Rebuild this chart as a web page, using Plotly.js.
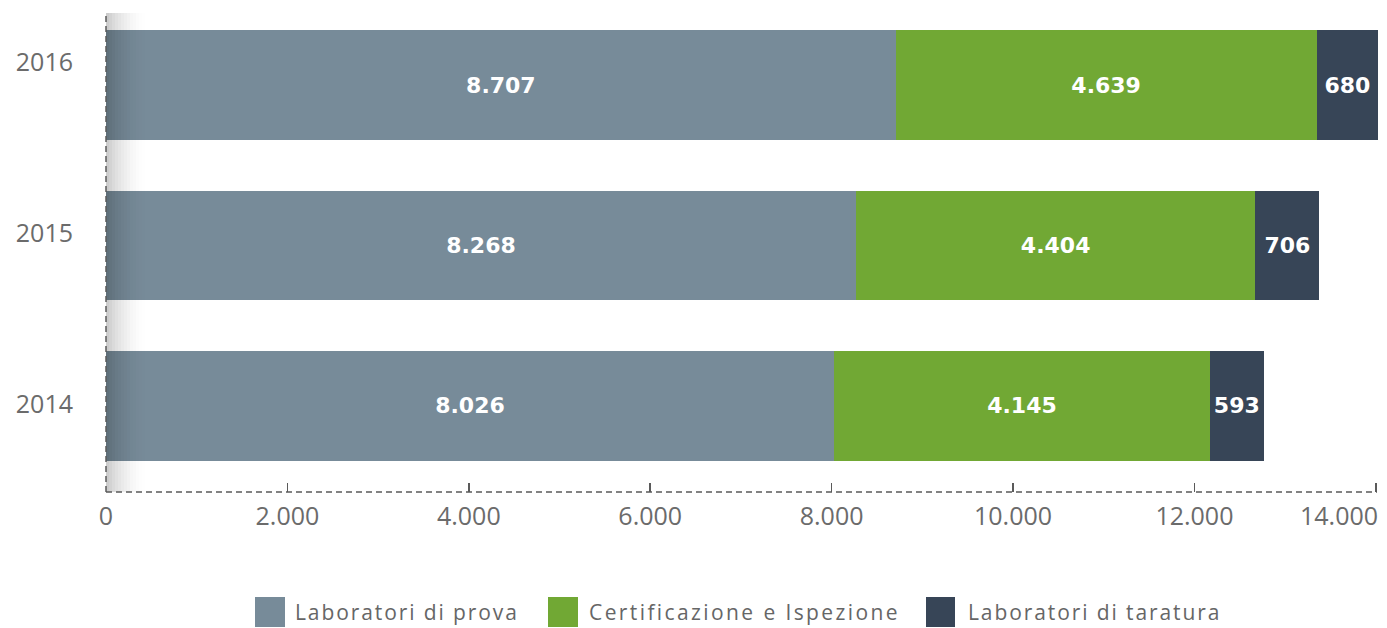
<!DOCTYPE html>
<html>
<head>
<meta charset="utf-8">
<script src="https://cdn.plot.ly/plotly-3.0.1.min.js"></script>
<style>html,body{margin:0;padding:0;background:#fff;}#chart{width:1387px;height:628px;}</style>
</head>
<body>
<div id="chart"></div>
<script>
const years = ['2014', '2015', '2016'];
const laboratoriProva = [8026, 8268, 8707];
const certificazione = [4145, 4404, 4639];
const laboratoriTaratura = [593, 706, 680];
const seriesNames = ['Laboratori di prova', 'Certificazione e Ispezione', 'Laboratori di taratura'];
const seriesColors = ['#778b99', '#71a834', '#374557'];
const xTicks = [0, 2000, 4000, 6000, 8000, 10000, 12000, 14000];

const fmt = v => String(v).replace(/\B(?=(\d{3})+(?!\d))/g, '.');

const seriesValues = [laboratoriProva, certificazione, laboratoriTaratura];
const traces = seriesValues.map((vals, i) => ({
  type: 'bar',
  orientation: 'h',
  y: years,
  x: vals,
  name: seriesNames[i],
  marker: {color: seriesColors[i], line: {width: 0}},
  texttemplate: '%{x:,}',
  textposition: 'inside',
  insidetextanchor: 'middle',
  textangle: 0,
  constraintext: 'none',
  textfont: {family: 'DejaVu Sans', size: 22, color: '#ffffff', weight: 'bold'},
  hoverinfo: 'skip',
  showlegend: false
}));
// invisible helper trace so the label axis is drawn
traces.push({type: 'scatter', mode: 'none', x: years.map(() => 0), y: years.map((y, i) => i),
  yaxis: 'y2', hoverinfo: 'skip', showlegend: false});

// plot geometry helpers (paper coordinates)
const L = 106, T = 13, W = 1273, H = 479;
const px = x => (x - L) / W;
const py = y => (T + H - y) / H;

const shapes = [];
// left shadow gradient
const N = 14;
for (let i = 0; i < N; i++) {
  const f = 1 - i / N;
  shapes.push({type: 'rect', xref: 'x', xsizemode: 'pixel', xanchor: 0, x0: i * 3, x1: (i + 1) * 3,
    yref: 'paper', y0: 0, y1: 1, fillcolor: '#000', opacity: 0.2 * f * f, line: {width: 0}, layer: 'above'});
}
// dashed axes
shapes.push({type: 'line', xref: 'paper', yref: 'paper', x0: 0, x1: px(1377), y0: 0, y1: 0,
  line: {color: '#5a5a5a', width: 1.5, dash: '6px,4px'}, layer: 'above'});
shapes.push({type: 'line', xref: 'paper', yref: 'paper', x0: 0, x1: 0, y0: 0, y1: 1,
  line: {color: '#5a5a5a', width: 1.5, dash: '6px,4px'}, layer: 'above'});

const tickFont = {family: 'Open Sans', size: 25, color: '#6b6b6b'};

// custom legend
const legendX = [[255, 285, 293], [548, 578, 587], [926, 955, 966]];
const legendSpacing = ['1.9px', '2.4px', '1.9px'];
const annotations = [];
legendX.forEach((p, i) => {
  shapes.push({type: 'rect', xref: 'paper', yref: 'paper', x0: px(p[0]), x1: px(p[1]), y0: py(597), y1: py(627),
    fillcolor: seriesColors[i], line: {width: 0}});
  annotations.push({xref: 'paper', yref: 'paper', x: px(p[2]), y: py(612), xanchor: 'left', yanchor: 'middle',
    text: '<span style="letter-spacing:' + legendSpacing[i] + '">' + seriesNames[i] + '</span>', showarrow: false,
    font: {family: 'Open Sans', size: 21, color: '#666666'}});
});
// last x tick label, shifted to stay inside the page
const lastTick = xTicks[xTicks.length - 1];
annotations.push({xref: 'x', yref: 'paper', x: lastTick, y: py(515), xanchor: 'right', yanchor: 'middle',
  xshift: 4, text: fmt(lastTick), showarrow: false, font: tickFont});

const layout = {
  width: 1387, height: 628,
  margin: {l: L, r: 1387 - L - W, t: T, b: 628 - T - H, pad: 0},
  paper_bgcolor: '#ffffff', plot_bgcolor: '#ffffff',
  barmode: 'stack',
  bargap: 0.315,
  separators: ',.',
  showlegend: false,
  xaxis: {
    range: [0, 14035], tickvals: xTicks,
    ticktext: xTicks.map((v, i) => i === xTicks.length - 1 ? '' : fmt(v)),
    showgrid: false, zeroline: false, showline: false,
    ticks: 'inside', ticklen: 9, tickwidth: 1.5, tickcolor: '#5a5a5a',
    ticklabelstandoff: 7,
    tickfont: tickFont, fixedrange: true
  },
  yaxis: {
    type: 'category', range: [-0.536, 2.449],
    showgrid: false, zeroline: false, showline: false, ticks: '',
    showticklabels: false, fixedrange: true
  },
  yaxis2: {
    overlaying: 'y', side: 'left', type: 'linear', range: [-0.515, 2.287],
    tickvals: years.map((y, i) => i), ticktext: years,
    showgrid: false, zeroline: false, showline: false, ticks: '',
    ticklabelstandoff: 32,
    tickfont: tickFont, fixedrange: true
  },
  shapes: shapes,
  annotations: annotations,
  font: {family: 'Open Sans'}
};

Plotly.newPlot('chart', traces, layout, {displayModeBar: false, staticPlot: true});
</script>
</body>
</html>
